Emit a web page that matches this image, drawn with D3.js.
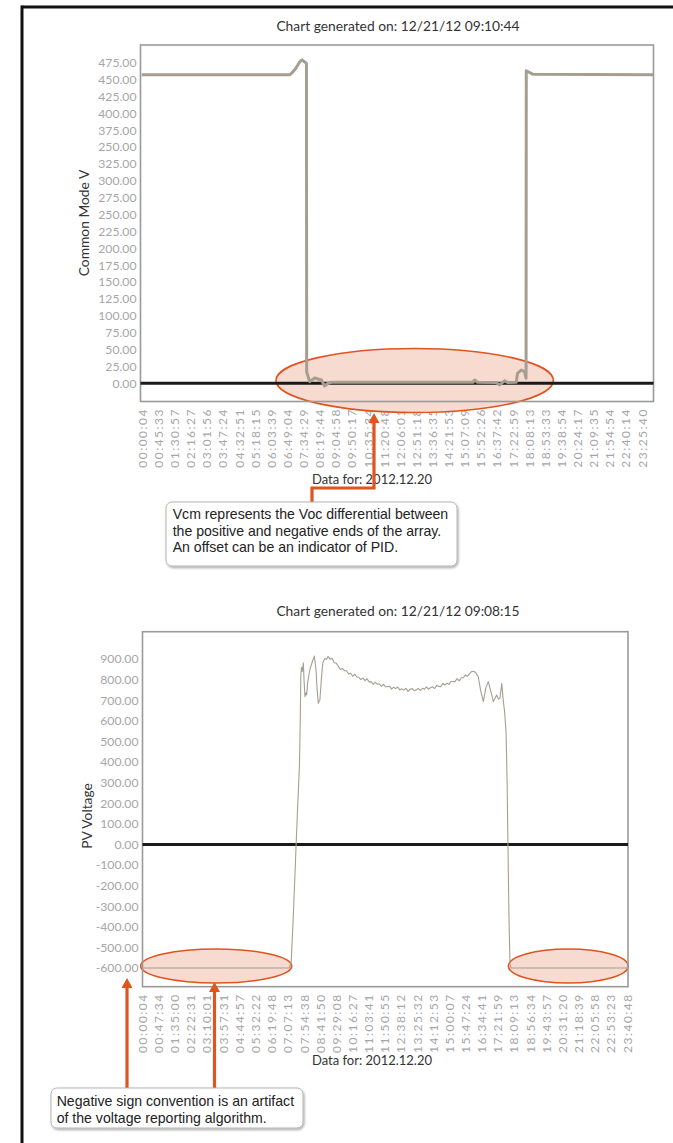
<!DOCTYPE html>
<html><head><meta charset="utf-8">
<script src="https://cdn.jsdelivr.net/npm/d3@7"></script>
<style>
html,body{margin:0;padding:0;background:#fff;}
svg{display:block;}
</style></head><body>
<svg id="c" width="673" height="1143"></svg>
<script>
// ---------- Chart 1: Common Mode V ----------
const cmTitle = "Chart generated on: 12/21/12 09:10:44";
const cmYTickValues = [0,25,50,75,100,125,150,175,200,225,250,275,300,325,350,375,400,425,450,475];
const cmYTickLabels = ["0.00","25.00","50.00","75.00","100.00","125.00","150.00","175.00","200.00","225.00","250.00","275.00","300.00","325.00","250.00","375.00","400.00","425.00","450.00","475.00"];
const cmXLabels = ["00:00:04","00:45:33","01:30:57","02:16:27","03:01:56","03:47:24","04:32:51","05:18:15","06:03:39","06:49:04","07:34:29","08:19:44","09:04:58","09:50:17","10:35:34","11:20:48","12:06:01","12:51:18","13:36:35","14:21:53","15:07:09","15:52:26","16:37:42","17:22:59","18:08:13","18:53:33","19:38:54","20:24:17","21:09:35","21:54:54","22:40:14","23:25:40"];
const cmHours  = [0, 6.93, 7.01, 7.21, 7.40, 7.51, 7.64, 7.72, 7.73, 7.87, 8.11, 8.42, 8.57, 8.73, 8.90, 15.52, 15.60, 15.74, 16.62, 16.77, 17.01, 17.15, 17.55, 17.61, 17.79, 17.94, 18.01, 18.02, 18.32, 24];
const cmValues = [457, 457, 459, 466, 476, 479, 476, 474, 17, 2.4, 7.9, 4.9, -4, 0, 1.5, 1.5, 4.9, 1.5, 1, -2.5, 3.9, 1, 1.5, 14.8, 19.7, 17, 7.4, 463, 458, 457];

// ---------- Chart 2: PV Voltage ----------
const pvTitle = "Chart generated on: 12/21/12 09:08:15";
const pvYTickValues = [-600,-500,-400,-300,-200,-100,0,100,200,300,400,500,600,700,800,900];
const pvYTickLabels = ["-600.00","-500.00","-400.00","-300.00","-200.00","-100.00","0.00","100.00","200.00","300.00","400.00","500.00","600.00","700.00","800.00","900.00"];
const pvXLabels = ["00:00:04","00:47:34","01:35:00","02:22:31","03:10:01","03:57:31","04:44:57","05:32:22","06:19:48","07:07:13","07:54:38","08:41:50","09:29:08","10:16:27","11:03:41","11:50:55","12:38:12","13:25:32","14:12:53","15:00:07","15:47:24","16:34:41","17:21:59","18:09:13","18:56:34","19:43:57","20:31:20","21:18:39","22:05:58","22:53:23","23:40:48"];
const pvHours = [0, 7.20, 7.30, 7.40, 7.50, 7.60, 7.70, 7.74, 7.77, 7.80, 7.84, 7.89, 7.93, 7.97, 8.01, 8.05, 8.11, 8.18, 8.24, 8.30, 8.36, 8.43, 8.47, 8.51, 8.56, 8.62, 8.66, 8.70, 8.77, 8.84, 8.90, 8.95, 9.02,
  9.1, 9.2, 9.3, 9.4, 9.5, 9.6, 9.7, 9.8, 9.9, 10.0, 10.1, 10.2, 10.3, 10.4, 10.5, 10.6, 10.7, 10.8, 10.9, 11.0,
  11.1, 11.2, 11.3, 11.4, 11.5, 11.6, 11.7, 11.8, 11.9, 12.0, 12.1, 12.2, 12.3, 12.4, 12.5, 12.6, 12.7, 12.8, 12.9, 13.0,
  13.1, 13.2, 13.3, 13.4, 13.5, 13.6, 13.7, 13.8, 13.9, 14.0, 14.1, 14.2, 14.3, 14.4, 14.5, 14.6, 14.7, 14.8, 14.9, 15.0,
  15.1, 15.2, 15.3, 15.4, 15.5, 15.6, 15.7, 15.8, 15.9, 16.0, 16.1, 16.2,
  16.3, 16.43, 16.55, 16.68, 16.80, 16.92, 17.05, 17.17, 17.25, 17.33, 17.41, 17.49, 17.58, 17.65, 17.72, 17.79, 17.84, 17.88, 17.93, 17.98, 18.03, 24];
const pvValues = [-600, -600, -570, -350, -100, 150, 380, 600, 820, 860, 840, 881, 790, 717, 735, 725, 790, 832, 860, 877, 895, 914, 880, 847, 760, 685, 695, 701, 800, 880, 895, 903, 898,
  912, 899, 903, 882, 879, 864, 849, 854, 843, 843, 827, 831, 816, 827, 813, 811, 800, 807, 795, 804,
  789, 790, 777, 788, 778, 780, 767, 777, 765, 765, 768, 754, 763, 756, 764, 750, 755, 749, 758, 743,
  752, 757, 747, 750, 757, 747, 758, 753, 765, 754, 760, 765, 757, 772, 767, 766, 782, 774, 782, 777,
  791, 791, 790, 805, 794, 809, 809, 822, 816, 828, 839, 840,
  835, 814, 745, 693, 760, 790, 740, 693, 710, 725, 705, 710, 782, 700, 640, 540, 300, 0, -350, -580, -600, -600];

const dataDate = "Data for: 2012.12.20";
const note1 = ["Vcm represents the Voc differential between", "the positive and negative ends of the array.", "An offset can be an indicator of PID."];
const note2 = ["Negative sign convention is an artifact", "of the voltage reporting algorithm."];

// ---------- helpers ----------
const toSec = s => { const p = s.split(":").map(Number); return p[0]*3600 + p[1]*60 + p[2]; };
const svg = d3.select("#c");
const ORANGE = "#e0541f", LINE = "#a69e91", TICK = "#a6a6a6", TXT = "#333";
const defs = svg.append("defs");
const f = defs.append("filter").attr("id","sh").attr("x","-10%").attr("y","-20%").attr("width","130%").attr("height","160%");
f.append("feDropShadow").attr("dx",1).attr("dy",1.5).attr("stdDeviation",1.2).attr("flood-color","#000").attr("flood-opacity",0.35);

// outer frame
svg.append("line").attr("x1",22).attr("x2",673).attr("y1",7).attr("y2",7).attr("stroke","#111").attr("stroke-width",3);
svg.append("line").attr("x1",22).attr("x2",22).attr("y1",5.5).attr("y2",1143).attr("stroke","#111").attr("stroke-width",3);

function chart(cfg) {
  const g = svg.append("g");
  const x = d3.scaleLinear().domain([0, 86400]).range(cfg.xRange);
  const y = d3.scaleLinear().domain(cfg.yDomain).range([cfg.fy1, cfg.fy0]);
  const cid = "clip" + cfg.id;
  defs.append("clipPath").attr("id", cid).append("rect")
    .attr("x", cfg.fx0).attr("y", cfg.fy0).attr("width", cfg.fx1 - cfg.fx0).attr("height", cfg.fy1 - cfg.fy0);

  g.append("text").attr("x", 398).attr("y", cfg.titleY).attr("text-anchor","middle")
    .style("font-family","Lato").style("font-size","13.8px").attr("fill",TXT).text(cfg.title);

  // x axis
  const xTicks = cfg.xLabels.map(toSec);
  const xa = g.append("g").attr("transform", `translate(0,${cfg.fy1})`)
    .call(d3.axisBottom(x).tickValues(xTicks).tickFormat((d,i) => cfg.xLabels[i]).tickSize(0));
  xa.select(".domain").remove();
  xa.selectAll("text").attr("transform","rotate(-90)").attr("x", -cfg.xPad).attr("y", 0).attr("dy","0.36em")
    .attr("text-anchor","end").style("font-family","Lato").style("font-size","12px")
    .style("letter-spacing","1.5px").attr("fill", TICK);

  // y axis
  const ya = g.append("g").attr("transform", `translate(${cfg.yLabelX},0)`)
    .call(d3.axisLeft(y).tickValues(cfg.yTicks).tickFormat((d,i) => cfg.yLabels[i]).tickSize(0).tickPadding(0));
  ya.select(".domain").remove();
  ya.selectAll("text").style("font-family","Lato").style("font-size","12.2px").attr("fill", TICK);

  g.append("text").attr("transform", `translate(${cfg.yTitleX},${cfg.yTitleY}) rotate(-90)`)
    .attr("text-anchor","middle").attr("dy","0.35em")
    .style("font-family","Lato").style("font-size","13.8px").attr("fill",TXT).text(cfg.yTitle);

  g.append("text").attr("x", 372).attr("y", cfg.dateY).attr("text-anchor","middle")
    .style("font-family","Lato").style("font-size","13px").attr("fill",TXT).text(dataDate);

  // highlight ellipses
  cfg.ellipses.forEach(e => {
    g.append("ellipse").attr("cx", e[0]).attr("cy", e[1]).attr("rx", e[2]).attr("ry", e[3])
      .attr("fill", "#f6d8cc").attr("fill-opacity", 0.93).attr("stroke", ORANGE).attr("stroke-width", 1.6);
  });

  // frame
  g.append("rect").attr("x", cfg.fx0).attr("y", cfg.fy0).attr("width", cfg.fx1 - cfg.fx0).attr("height", cfg.fy1 - cfg.fy0)
    .attr("fill","none").attr("stroke","#9a9a9a").attr("stroke-width",1.6);

  // zero line
  g.append("line").attr("x1", cfg.fx0).attr("x2", cfg.fx1).attr("y1", y(0)).attr("y2", y(0))
    .attr("stroke","#1a1a1a").attr("stroke-width",3);

  // data line
  const pts = cfg.hours.map((h,i) => [h*3600, cfg.values[i]]);
  g.append("path").attr("clip-path", `url(#${cid})`).datum(pts)
    .attr("d", d3.line().x(d => x(d[0])).y(d => y(d[1])))
    .attr("fill","none").attr("stroke", LINE).attr("stroke-width", cfg.lw).attr("stroke-linejoin","round");
}

chart({id:1, title: cmTitle, titleY: 31, xLabels: cmXLabels, xRange:[141.7, 653.9],
  yDomain:[-27, 501.2], fx0:140.5, fx1:653.5, fy0:45, fy1:401.5, xPad:6.5,
  yTicks: cmYTickValues, yLabels: cmYTickLabels, yLabelX:136.5, yTitle:"Common Mode V", yTitleX:84, yTitleY:223,
  dateY:484, ellipses:[[414.7, 380.5, 138.7, 32]], hours: cmHours, values: cmValues, lw:3});

chart({id:2, title: pvTitle, titleY: 616, xLabels: pvXLabels, xRange:[141.7, 633.3],
  yDomain:[-690.8, 1032.5], fx0:142.5, fx1:628, fy0:631.7, fy1:986.7, xPad:6.5,
  yTicks: pvYTickValues, yLabels: pvYTickLabels, yLabelX:138.5, yTitle:"PV Voltage", yTitleX:87, yTitleY:816,
  dateY:1065, ellipses:[[216.2, 966, 75.5, 17],[568.3, 966, 60, 17]], hours: pvHours, values: pvValues, lw:1.1});

// ---------- annotations ----------
function arrowHead(tx, ty) {
  svg.append("path").attr("d", `M${tx-5.5},${ty+10}L${tx},${ty}L${tx+5.5},${ty+10}Z`).attr("fill", ORANGE);
}
svg.append("path").attr("d","M312,502V488H374V421").attr("fill","none").attr("stroke",ORANGE).attr("stroke-width",3.2);
arrowHead(374, 413);
svg.append("line").attr("x1",127).attr("x2",127).attr("y1",1088).attr("y2",986).attr("stroke",ORANGE).attr("stroke-width",3.2);
arrowHead(127, 978);
svg.append("line").attr("x1",214.5).attr("x2",214.5).attr("y1",1088).attr("y2",990).attr("stroke",ORANGE).attr("stroke-width",3.2);
arrowHead(214.5, 982);

function noteBox(x0, y0, w, h, lines, tx, ty0, lh) {
  svg.append("rect").attr("x",x0).attr("y",y0).attr("width",w).attr("height",h).attr("rx",6)
    .attr("fill","#fff").attr("stroke","#b5b5b5").attr("stroke-width",1).attr("filter","url(#sh)");
  lines.forEach((t,i) => svg.append("text").attr("x",tx).attr("y",ty0 + i*lh)
    .style("font-family","Liberation Sans, Arial, sans-serif").style("font-size","14.1px").attr("fill","#222").text(t));
}
noteBox(166, 502, 291, 64, note1, 172.7, 519, 16.7);
noteBox(51, 1088, 252, 40, note2, 56.7, 1106, 16.6);
</script>
</body></html>
